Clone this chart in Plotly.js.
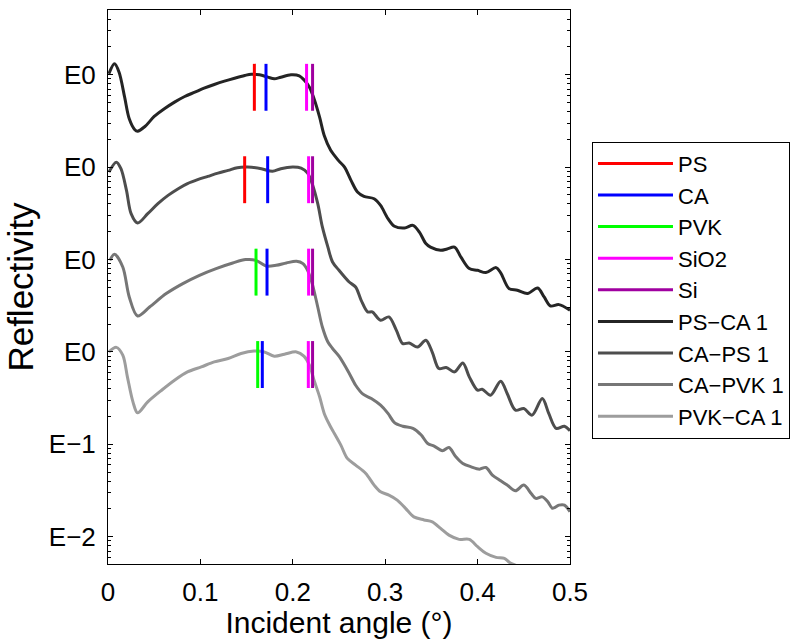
<!DOCTYPE html>
<html>
<head>
<meta charset="utf-8">
<script src="https://cdn.plot.ly/plotly-3.0.1.min.js"></script>
<style>html,body{margin:0;padding:0;background:#fff;}#chart{width:800px;height:639px;}</style>
</head>
<body>
<div id="chart"></div>
<script>
// ---- Data ----
const seriesNames = ['PS\u2212CA 1', 'CA\u2212PS 1', 'CA\u2212PVK 1', 'PVK\u2212CA 1'];
const seriesColors = ['#242424', '#4d4d4d', '#767676', '#9d9d9d'];

const angle1 = [0.001,0.007,0.012,0.018,0.023,0.029,0.032,0.040,0.050,0.061,0.072,0.083,0.094,0.104,0.115,0.126,0.137,0.148,0.155,0.164,0.173,0.180,0.187,0.198,0.207,0.212,0.218,0.223,0.229,0.234,0.241,0.245,0.250,0.256,0.263,0.270,0.277,0.288,0.295,0.303,0.310,0.321,0.330,0.337,0.344,0.349,0.360,0.367,0.375,0.382,0.391,0.400,0.409,0.420,0.425,0.434,0.443,0.454,0.465,0.472,0.479,0.488,0.5];
const refl1 = [1023,1312,1064,571,333,254,245,275,353,428,505,581,647,714,783,851,916,980,1012,997,940,903,940,997,973,881,733,549,347,220,152,134,116,100,71.8,53.7,48.2,45.5,38.5,27.7,22.9,21.9,23.4,19.8,14.9,13.6,12.6,13.0,13.6,10.6,7.97,7.64,7.22,8.17,7.18,4.84,4.65,4.28,4.92,3.93,3.14,3.25,2.82];

const angle2 = [0.001,0.009,0.014,0.020,0.025,0.032,0.043,0.054,0.065,0.076,0.086,0.097,0.108,0.119,0.130,0.140,0.151,0.166,0.178,0.187,0.200,0.209,0.216,0.221,0.227,0.232,0.238,0.243,0.250,0.261,0.268,0.274,0.281,0.286,0.295,0.304,0.312,0.319,0.326,0.335,0.344,0.351,0.358,0.366,0.375,0.384,0.391,0.400,0.405,0.414,0.425,0.432,0.441,0.450,0.459,0.470,0.477,0.485,0.494,0.5];
const refl2 = [88.3,113,96.1,56.0,31.3,24.8,31.3,40.2,49.4,58.4,66.2,73.1,79.3,86.1,92.1,98.6,100,96.1,89.9,96.1,100,97.5,86.1,66.2,40.2,22.5,13.6,9.40,7.64,5.71,5.04,3.62,2.71,2.71,2.20,2.39,1.72,1.23,1.25,1.13,1.34,0.99,0.662,0.678,0.608,0.760,0.537,0.385,0.395,0.340,0.482,0.355,0.234,0.244,0.207,0.313,0.216,0.149,0.157,0.140];

const angle3 = [0.002,0.007,0.016,0.023,0.032,0.045,0.063,0.081,0.099,0.117,0.135,0.149,0.160,0.171,0.182,0.193,0.204,0.211,0.216,0.221,0.227,0.232,0.238,0.243,0.250,0.261,0.268,0.276,0.285,0.295,0.303,0.310,0.319,0.330,0.339,0.346,0.353,0.362,0.369,0.376,0.384,0.393,0.402,0.409,0.416,0.425,0.432,0.441,0.450,0.458,0.463,0.470,0.476,0.481,0.488,0.494,0.5];
const refl3 = [9.80,11.4,8.29,3.93,2.45,3.06,4.28,5.49,6.75,7.97,9.17,9.98,9.80,8.51,8.65,9.17,9.57,9.03,7.64,5.49,3.06,1.86,1.28,1.09,0.899,0.589,0.436,0.349,0.313,0.265,0.216,0.172,0.157,0.149,0.126,0.102,0.0957,0.0851,0.0925,0.0745,0.0622,0.0571,0.0539,0.0562,0.0465,0.0403,0.0362,0.0314,0.0362,0.0294,0.0260,0.0270,0.0239,0.0203,0.0220,0.0220,0.0186];

const angle4 = [0.001,0.009,0.016,0.021,0.027,0.032,0.043,0.058,0.072,0.086,0.101,0.115,0.130,0.144,0.158,0.169,0.180,0.191,0.204,0.212,0.218,0.223,0.229,0.234,0.240,0.245,0.252,0.259,0.268,0.279,0.288,0.295,0.304,0.313,0.322,0.331,0.342,0.351,0.360,0.369,0.380,0.391,0.400,0.409,0.420,0.429,0.436,0.450,0.467];
const refl4 = [1.00,1.12,0.921,0.537,0.288,0.219,0.288,0.385,0.494,0.608,0.689,0.780,0.849,0.961,1.02,1.00,0.899,0.944,1.00,0.899,0.718,0.494,0.327,0.216,0.161,0.131,0.0980,0.0704,0.0596,0.0484,0.0362,0.0306,0.0282,0.0249,0.0203,0.0164,0.0152,0.0145,0.0123,0.0104,0.00937,0.00937,0.00780,0.00662,0.00598,0.00583,0.00515,0.00459,0.00395];

// Vertical offset (factor) of each curve, and critical-angle marks per material
const curveOffsets = [1000, 100, 10, 1];
const markNames = ['PS', 'CA', 'PVK', 'SiO2', 'Si'];
const markColors = ['#ff0000', '#0000ff', '#00ff00', '#ff00ff', '#a000a0'];
const markAngles = [
  [0.1584, 0.1479],
  [0.1710, 0.1728, 0.1721, 0.1670],
  [0.1602, 0.1620],
  [0.2149, 0.2171, 0.2171, 0.2168],
  [0.2214, 0.2214, 0.2214, 0.2214]
];
const markCurves = [
  [0, 1],
  [0, 1, 2, 3],
  [2, 3],
  [0, 1, 2, 3],
  [0, 1, 2, 3]
];
const markTop = 1.31, markBottom = 0.407;

const xTickVals = [0, 0.1, 0.2, 0.3, 0.4, 0.5];
const xTickText = ['0', '0.1', '0.2', '0.3', '0.4', '0.5'];
const yTickVals = [0.01, 0.1, 1, 10, 100, 1000];
const yTickText = ['E\u22122', 'E\u22121', 'E0', 'E0', 'E0', 'E0'];

// ---- Traces ----
const angles = [angle1, angle2, angle3, angle4];
const refls = [refl1, refl2, refl3, refl4];
const traces = [];
for (let i = 0; i < 4; i++) {
  traces.push({
    type: 'scatter', mode: 'lines', name: seriesNames[i],
    x: angles[i], y: refls[i],
    line: {color: seriesColors[i], width: 3, shape: 'spline', smoothing: 0.9},
    legendrank: 6 + i, hoverinfo: 'skip'
  });
}
for (let m = 0; m < markNames.length; m++) {
  const xs = [], ys = [];
  for (let k = 0; k < markAngles[m].length; k++) {
    const off = curveOffsets[markCurves[m][k]];
    xs.push(markAngles[m][k], markAngles[m][k], null);
    ys.push(off * markTop, off * markBottom, null);
  }
  traces.push({
    type: 'scatter', mode: 'lines', name: markNames[m],
    x: xs, y: ys, connectgaps: false,
    line: {color: markColors[m], width: 3},
    legendrank: 1 + m, hoverinfo: 'skip'
  });
}

const minorVals = [];
for (let d = -3; d <= 3; d++) for (let k = 2; k <= 9; k++) minorVals.push(k * Math.pow(10, d));

const layout = {
  width: 800, height: 639,
  margin: {l: 108, r: 230, t: 10, b: 75, autoexpand: false},
  paper_bgcolor: '#ffffff', plot_bgcolor: '#ffffff',
  font: {family: '"Liberation Sans", Arial, sans-serif', size: 22, color: '#000'},
  showlegend: true,
  xaxis: {
    range: [0, 0.5], tickmode: 'array', tickvals: xTickVals, ticktext: xTickText,
    ticks: 'inside', ticklen: 5, tickwidth: 1, tickcolor: '#000',
    showline: true, linecolor: '#000', linewidth: 1, mirror: 'ticks',
    showgrid: false, zeroline: false, ticklabelstandoff: 5,
    tickfont: {size: 26},
    title: {text: 'Incident angle (\u00b0)', font: {size: 30}, standoff: 0}
  },
  yaxis: {
    type: 'log', range: [-2.295, 3.70], tickmode: 'array', tickvals: yTickVals, ticktext: yTickText,
    ticks: 'inside', ticklen: 5, tickwidth: 1, tickcolor: '#000',
    minor: {tickmode: 'array', tickvals: minorVals, ticks: 'inside', ticklen: 3, tickcolor: '#000', showgrid: false},
    showline: true, linecolor: '#000', linewidth: 1, mirror: 'ticks',
    showgrid: false, zeroline: false, ticklabelstandoff: 6,
    tickfont: {size: 26},
    title: {text: 'Reflectivity', font: {size: 35}, standoff: 4}
  },
  legend: {
    x: 1.0476, y: 0.7625, xanchor: 'left', yanchor: 'top',
    bgcolor: '#ffffff', bordercolor: '#000', borderwidth: 1,
    font: {size: 22}, itemwidth: 75, traceorder: 'normal'
  }
};

Plotly.newPlot('chart', traces, layout, {staticPlot: true, displayModeBar: false});
</script>
</body>
</html>
